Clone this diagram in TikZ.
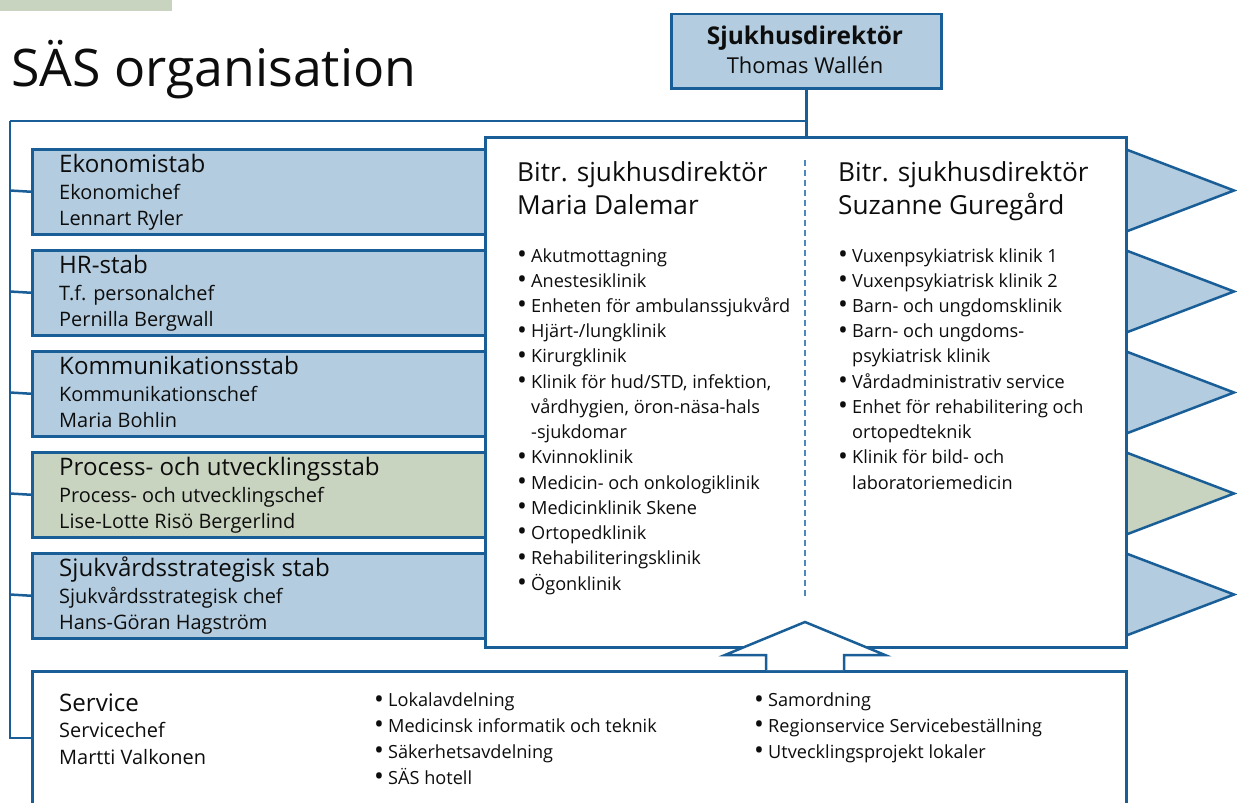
\documentclass[tikz,border=0pt]{standalone}
\usepackage{fontspec}
\usepackage{graphicx}
\setmainfont{Open Sans}
\definecolor{bord}{HTML}{1A5E98}
\definecolor{lblue}{HTML}{B3CCDF}
\definecolor{lgreen}{HTML}{C9D4C0}
\definecolor{txt}{HTML}{0D0D0D}
\definecolor{dashc}{HTML}{4F88BD}
\newcommand{\bul}{\makebox[14bp][l]{\raisebox{-0.08em}{\scalebox{1.45}{\textbullet}}}}
\newcommand{\ind}{\hspace*{14bp}}
\begin{document}
\begin{tikzpicture}[x=1bp,y=-1bp,
  boxline/.style={draw=bord, line width=2.5bp},
  staffbox/.style={boxline, fill=#1, anchor=north west, minimum width=1094bp, minimum height=85bp, inner sep=0pt},
  tri/.style={boxline, fill=#1, line join=miter},
  rail/.style={draw=bord, line width=2.5bp},
  ttl/.style={anchor=base west, inner sep=0pt, font=\fontsize{24.2}{28}\selectfont, text=txt},
  sub/.style={anchor=base west, inner sep=0pt, font=\fontsize{20}{24}\selectfont, text=txt},
  itm/.style={anchor=base west, inner sep=0pt, font=\fontsize{18.2}{22}\selectfont, text=txt},
  hdr/.style={anchor=base west, inner sep=0pt, font=\fontsize{26.3}{30}\selectfont, text=txt}]
\useasboundingbox (0,0) rectangle (1237,803);
\fill[lgreen] (0,0) rectangle (172,11);
\node[anchor=base west, inner sep=0pt, font=\fontsize{52}{60}\selectfont, text=txt] (title) at (11,87) {SÄS organisation};

% top box
\node[boxline, fill=lblue, anchor=north west, minimum width=270bp, minimum height=74bp, inner sep=0pt] (dir) at (670,13) {};
\node[anchor=base, inner sep=0pt, font=\fontsize{24.5}{28}\selectfont\bfseries, text=txt] (dirT) at (805,45) {Sjukhusdirektör};
\node[anchor=base, inner sep=0pt, font=\fontsize{22}{26}\selectfont, text=txt] (dirN) at (805,74) {Thomas Wallén};

% staff boxes with triangles
\foreach \nm/\tp/\col/\a/\b/\c in {eko/148/lblue/Ekonomistab/Ekonomichef/Lennart Ryler,
  hr/249/lblue/HR-stab/T.f. personalchef/Pernilla Bergwall,
  kom/350/lblue/Kommunikationsstab/Kommunikationschef/Maria Bohlin,
  pro/451/lgreen/Process- och utvecklingsstab/Process- och utvecklingschef/Lise-Lotte Risö Bergerlind,
  sjv/552/lblue/Sjukvårdsstrategisk stab/Sjukvårdsstrategisk chef/Hans-Göran Hagström}{
  \node[staffbox=\col] (\nm) at (31,\tp) {};
  \filldraw[tri=\col] (1125,\tp+1) -- (1234,\tp+42.5) -- (1125,\tp+84) -- cycle;
  \node[ttl] (\nm-t) at (59,\tp+24.5) {\a};
  \node[sub] (\nm-b) at (59,\tp+51) {\b};
  \node[sub] (\nm-c) at (59,\tp+77.5) {\c};
  \draw[rail] (10,\tp+42.5) coordinate (\nm-r) -- (\nm.west);
}

% big white box
\node[boxline, fill=white, anchor=north west, minimum width=641bp, minimum height=510bp, inner sep=0pt] (big) at (484,136) {};
\draw[dashc, line width=1.4bp, dash pattern=on 6bp off 4bp] (805,160) -- (805,600);

\node[hdr] (h1a) at (517,181.7) {Bitr. sjukhusdirektör};
\node[hdr] (h1b) at (517,214) {Maria Dalemar};
\node[hdr] (h2a) at (838,181.7) {Bitr. sjukhusdirektör};
\node[hdr] (h2b) at (838,214) {Suzanne Guregård};

\node[itm] (l0) at (517,262) {\bul Akutmottagning};
\node[itm] (l1) at (517,287.2) {\bul Anestesiklinik};
\node[itm] (l2) at (517,312.5) {\bul Enheten för ambulanssjukvård};
\node[itm] (l3) at (517,337.7) {\bul Hjärt-/lungklinik};
\node[itm] (l4) at (517,362.9) {\bul Kirurgklinik};
\node[itm] (l5) at (517,388.2) {\bul Klinik för hud/STD, infektion,};
\node[itm] (l6) at (517,413.4) {\ind vårdhygien, öron-näsa-hals};
\node[itm] (l7) at (517,438.6) {\ind -sjukdomar};
\node[itm] (l8) at (517,463.8) {\bul Kvinnoklinik};
\node[itm] (l9) at (517,489.1) {\bul Medicin- och onkologiklinik};
\node[itm] (l10) at (517,514.3) {\bul Medicinklinik Skene};
\node[itm] (l11) at (517,539.5) {\bul Ortopedklinik};
\node[itm] (l12) at (517,564.8) {\bul Rehabiliteringsklinik};
\node[itm] (l13) at (517,590) {\bul Ögonklinik};

\node[itm] (r0) at (838,262) {\bul Vuxenpsykiatrisk klinik 1};
\node[itm] (r1) at (838,287.2) {\bul Vuxenpsykiatrisk klinik 2};
\node[itm] (r2) at (838,312.5) {\bul Barn- och ungdomsklinik};
\node[itm] (r3) at (838,337.7) {\bul Barn- och ungdoms-};
\node[itm] (r4) at (838,362.9) {\ind psykiatrisk klinik};
\node[itm] (r5) at (838,388.2) {\bul Vårdadministrativ service};
\node[itm] (r6) at (838,413.4) {\bul Enhet för rehabilitering och};
\node[itm] (r7) at (838,438.6) {\ind ortopedteknik};
\node[itm] (r8) at (838,463.8) {\bul Klinik för bild- och};
\node[itm] (r9) at (838,489.1) {\ind laboratoriemedicin};

% service box
\node[boxline, fill=white, anchor=north west, minimum width=1094bp, minimum height=160bp, inner sep=0pt] (serv) at (31,670) {};
% arrow up from service
\filldraw[boxline, fill=white, line join=miter] (766,670) -- (766,655) -- (725,655) -- (805,622) -- (885,655) -- (844,655) -- (844,670);

\node[ttl] (sv-t) at (59,711.7) {Service};
\node[sub] (sv-b) at (59,737.7) {Servicechef};
\node[sub] (sv-c) at (59,764.3) {Martti Valkonen};
\node[itm] (s0) at (374,706.7) {\bul Lokalavdelning};
\node[itm] (s1) at (374,732.5) {\bul Medicinsk informatik och teknik};
\node[itm] (s2) at (374,758) {\bul Säkerhetsavdelning};
\node[itm] (s3) at (374,784) {\bul SÄS hotell};
\node[itm] (u0) at (754,706.7) {\bul Samordning};
\node[itm] (u1) at (754,732.5) {\bul Regionservice Servicebeställning};
\node[itm] (u2) at (754,758) {\bul Utvecklingsprojekt lokaler};

% rails
\coordinate (railtop) at (10,121);
\coordinate (railbot) at (10,738);
\draw[rail] (dir.south) -- (dir.south |- big.north);
\draw[rail] (railtop) -- (dir.south |- railtop);
\draw[rail] (railtop) -- (railbot) -- (railbot -| serv.west);
\end{tikzpicture}
\end{document}
